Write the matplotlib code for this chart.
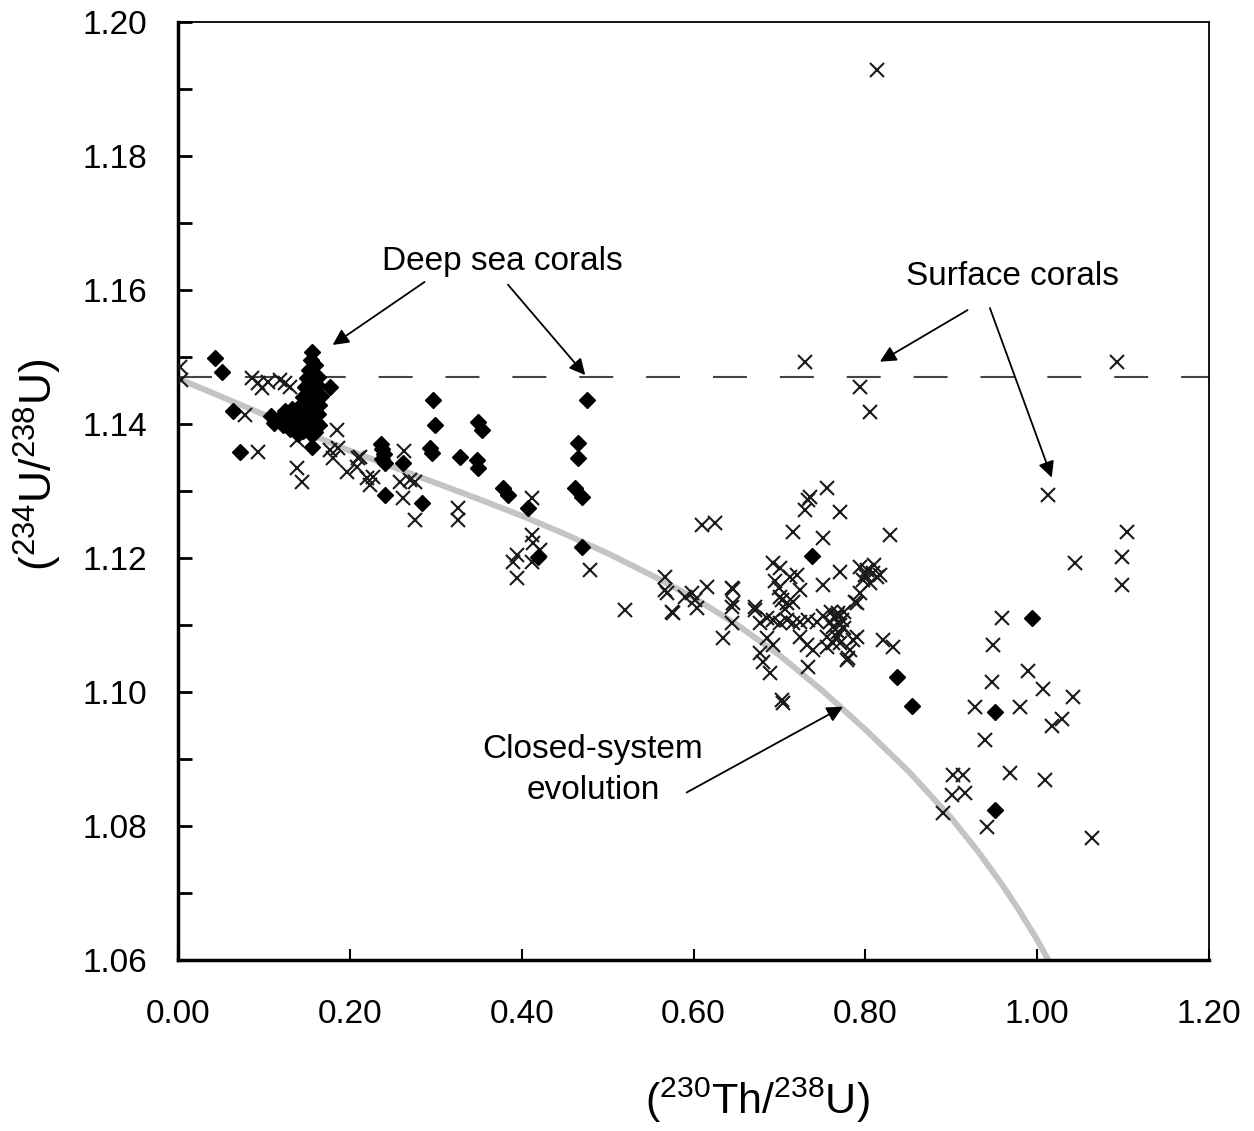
import matplotlib
matplotlib.use("Agg")
import matplotlib.pyplot as plt
from matplotlib.ticker import MultipleLocator, FormatStrFormatter

plt.rcParams['font.family'] = ['Liberation Sans', 'DejaVu Sans']
plt.rcParams['mathtext.fontset'] = 'custom'
plt.rcParams['mathtext.rm'] = 'Liberation Sans'
plt.rcParams['mathtext.it'] = 'Liberation Sans:italic'

# surface corals (crosses)
surf_x = [0.002, 0.003, 0.086, 0.093, 0.098, 0.105, 0.119, 0.125, 0.130, 0.078, 0.093,
          0.138, 0.138, 0.144, 0.185, 0.177, 0.186, 0.180, 0.197, 0.209, 0.208, 0.212,
          0.220, 0.223, 0.227, 0.263, 0.258, 0.276, 0.262, 0.276, 0.270, 0.326, 0.326,
          0.412, 0.412, 0.413, 0.421, 0.395, 0.390, 0.395, 0.412, 0.480, 0.520, 0.610,
          0.625, 0.567, 0.567, 0.569, 0.575, 0.576, 0.590, 0.598, 0.602, 0.616, 0.604,
          0.645, 0.645, 0.645, 0.634, 0.672, 0.677, 0.686, 0.677, 0.681, 0.689, 0.686,
          0.692, 0.692, 0.701, 0.712, 0.720, 0.701, 0.709, 0.716, 0.724, 0.703, 0.706,
          0.692, 0.701, 0.709, 0.716, 0.724, 0.733, 0.744, 0.751, 0.759, 0.767, 0.773,
          0.762, 0.767, 0.762, 0.771, 0.768, 0.775, 0.755, 0.755, 0.724, 0.732, 0.739,
          0.733, 0.703, 0.704, 0.716, 0.730, 0.733, 0.736, 0.755, 0.770, 0.751, 0.770,
          0.751, 0.794, 0.802, 0.809, 0.797, 0.805, 0.814, 0.800, 0.810, 0.788, 0.794,
          0.790, 0.786, 0.782, 0.779, 0.780, 0.790, 0.829, 0.821, 0.832, 0.646, 0.646,
          0.672, 0.768, 0.760, 0.770, 0.765, 0.775, 0.695, 0.700, 0.817,
          0.813, 0.730, 0.794, 0.805, 1.093,
          1.013, 1.105, 1.044, 1.099, 1.099, 0.959, 0.949, 0.947, 0.989, 1.007, 1.042,
          0.928, 0.980, 1.017, 1.029, 0.939, 0.902, 0.914, 0.901, 0.916, 0.968, 1.009,
          0.890, 0.942, 1.064]
surf_y = [1.1485, 1.1465, 1.1469, 1.1461, 1.1454, 1.1462, 1.1466, 1.1461, 1.1455, 1.1414, 1.1358,
          1.1376, 1.1334, 1.1313, 1.1391, 1.1361, 1.1364, 1.1349, 1.1328, 1.1349, 1.1336, 1.1351,
          1.1319, 1.1309, 1.1321, 1.1360, 1.1313, 1.1313, 1.1290, 1.1257, 1.1317, 1.1275, 1.1257,
          1.1290, 1.1234, 1.1222, 1.1212, 1.1205, 1.1194, 1.1170, 1.1194, 1.1182, 1.1122, 1.1249,
          1.1252, 1.1172, 1.1152, 1.1148, 1.1120, 1.1118, 1.1142, 1.1148, 1.1138, 1.1157, 1.1126,
          1.1155, 1.1127, 1.1103, 1.1081, 1.1122, 1.1103, 1.1110, 1.1058, 1.1045, 1.1028, 1.1081,
          1.1070, 1.1193, 1.1185, 1.1172, 1.1175, 1.1142, 1.1133, 1.1134, 1.1152, 1.1138, 1.1124,
          1.1108, 1.1103, 1.1108, 1.1103, 1.1105, 1.1108, 1.1105, 1.1113, 1.1105, 1.1115, 1.1108,
          1.1097, 1.1082, 1.1073, 1.1073, 1.1090, 1.1095, 1.1082, 1.1067, 1.1082, 1.1070, 1.1063,
          1.1038, 1.0988, 1.0984, 1.1239, 1.1272, 1.1287, 1.1291, 1.1305, 1.1269, 1.1230, 1.1179,
          1.1160, 1.1187, 1.1182, 1.1178, 1.1167, 1.1163, 1.1172, 1.1175, 1.1190, 1.1134, 1.1148,
          1.1133, 1.1078, 1.1063, 1.1048, 1.1051, 1.1082, 1.1234, 1.1078, 1.1067, 1.1154, 1.1133,
          1.1127, 1.1118, 1.1120, 1.1100, 1.1110, 1.1120, 1.1165, 1.1155, 1.1175,
          1.1928, 1.1493, 1.1455, 1.1418, 1.1493,
          1.1294, 1.1239, 1.1193, 1.1202, 1.1160, 1.1111, 1.1070, 1.1015, 1.1031, 1.1005, 1.0993,
          1.0978, 1.0978, 1.0949, 1.0960, 1.0928, 1.0876, 1.0876, 1.0847, 1.0850, 1.0879, 1.0869,
          1.0820, 1.0799, 1.0782]

# deep sea corals (diamonds)
deep_x = [0.043, 0.051, 0.064, 0.072,
          0.156, 0.155, 0.160, 0.153, 0.158, 0.163, 0.150, 0.156, 0.162, 0.148, 0.154, 0.160,
          0.166, 0.146, 0.152, 0.158, 0.164, 0.143, 0.150, 0.157, 0.163, 0.140, 0.147, 0.154,
          0.161, 0.137, 0.144, 0.151, 0.158, 0.164, 0.131, 0.138, 0.146, 0.155, 0.160,
          0.108, 0.112, 0.118, 0.122, 0.127, 0.125, 0.133, 0.130, 0.140,
          0.177, 0.156,
          0.297, 0.299, 0.293, 0.296, 0.328, 0.349, 0.354, 0.348, 0.349, 0.378, 0.384, 0.407,
          0.419, 0.476, 0.466, 0.466, 0.462, 0.470, 0.470, 0.236, 0.238, 0.240, 0.237, 0.241,
          0.262, 0.241, 0.284,
          0.738, 0.837, 0.854, 0.994, 0.951, 0.951]
deep_y = [1.1499, 1.1478, 1.1420, 1.1358,
          1.1508, 1.1495, 1.1488, 1.1480, 1.1475, 1.1470, 1.1468, 1.1462, 1.1458, 1.1455, 1.1450, 1.1446,
          1.1442, 1.1440, 1.1436, 1.1432, 1.1428, 1.1428, 1.1423, 1.1419, 1.1415, 1.1418, 1.1412, 1.1407,
          1.1403, 1.1410, 1.1402, 1.1397, 1.1392, 1.1398, 1.1405, 1.1396, 1.1390, 1.1385, 1.1388,
          1.1412, 1.1402, 1.1408, 1.1398, 1.1412, 1.1420, 1.1422, 1.1392, 1.1385,
          1.1455, 1.1366,
          1.1436, 1.1399, 1.1364, 1.1357, 1.1351, 1.1403, 1.1391, 1.1346, 1.1334, 1.1305, 1.1294, 1.1275,
          1.1202, 1.1436, 1.1372, 1.1349, 1.1305, 1.1291, 1.1217, 1.1370, 1.1362, 1.1355, 1.1348, 1.1342,
          1.1342, 1.1294, 1.1282,
          1.1203, 1.1023, 1.0979, 1.1111, 1.0970, 1.0824]

# closed-system evolution curve
curve_x = [0.00, 0.05, 0.10, 0.15, 0.20, 0.25, 0.30, 0.35, 0.40, 0.45, 0.50, 0.55,
           0.60, 0.65, 0.70, 0.75, 0.80, 0.85, 0.90, 0.93, 0.96, 0.98, 1.00, 1.013]
curve_y = [1.1468, 1.1441, 1.1414, 1.1387, 1.1360, 1.1336, 1.1312, 1.1288, 1.1263, 1.1236,
           1.1207, 1.1175, 1.1141, 1.1101, 1.1055, 1.1002, 1.0944, 1.0882, 1.0812, 1.0764,
           1.0711, 1.0672, 1.0630, 1.0600]

seawater = 1.147

fig = plt.figure(figsize=(12.54, 11.31), dpi=100)
ax = fig.add_axes([178 / 1254, 171 / 1131, 1031 / 1254, 938 / 1131])

ax.plot(curve_x, curve_y, color='#c4c4c4', lw=4.3, solid_capstyle='butt',
        solid_joinstyle='round', zorder=1)
ax.plot([0, 1.2], [seawater, seawater], color='#444444', lw=1.5, dashes=(16.3, 15.8), zorder=2)

ax.plot(surf_x, surf_y, ls='none', marker='x', ms=10.5, mew=1.5, color='#1a1a1a', zorder=3)
ax.plot(deep_x, deep_y, ls='none', marker='D', ms=8.5, color='black', zorder=4)

ax.set_xlim(0, 1.2)
ax.set_ylim(1.06, 1.20)
ax.xaxis.set_major_locator(MultipleLocator(0.2))
ax.yaxis.set_major_locator(MultipleLocator(0.02))
ax.yaxis.set_minor_locator(MultipleLocator(0.01))
ax.xaxis.set_major_formatter(FormatStrFormatter('%.2f'))
ax.yaxis.set_major_formatter(FormatStrFormatter('%.2f'))
ax.tick_params(axis='y', which='both', direction='in', length=10, width=2, labelsize=24, pad=22)
ax.tick_params(axis='x', which='both', direction='in', length=8, width=1.5, labelsize=24, pad=28)

for side in ['left', 'bottom']:
    ax.spines[side].set_linewidth(2.5)
for side in ['top', 'right']:
    ax.spines[side].set_linewidth(1.3)

arrow = dict(arrowstyle='-|>', color='black', lw=1.3, mutation_scale=24, shrinkA=0, shrinkB=0)
ax.text(0.377, 1.1642, 'Deep sea corals', fontsize=24, ha='center', va='center')
ax.annotate('', xy=(0.180, 1.1518), xytext=(0.287, 1.1612), arrowprops=arrow)
ax.annotate('', xy=(0.474, 1.1473), xytext=(0.384, 1.1608), arrowprops=arrow)

ax.text(0.971, 1.1620, 'Surface corals', fontsize=24, ha='center', va='center')
ax.annotate('', xy=(0.817, 1.1493), xytext=(0.919, 1.1570), arrowprops=arrow)
ax.annotate('', xy=(1.017, 1.1320), xytext=(0.945, 1.1573), arrowprops=arrow)

ax.text(0.483, 1.0884, 'Closed-system\nevolution', fontsize=24, ha='center', va='center',
        linespacing=1.4)
ax.annotate('', xy=(0.774, 1.0978), xytext=(0.592, 1.0850), arrowprops=arrow)

fig.text(757 / 1254, 1 - 1100 / 1131, r'($^{230}$Th/$^{238}$U)', fontsize=31,
         ha='center', va='center')
fig.text(38 / 1254, 1 - 465 / 1131, r'($^{234}$U/$^{238}$U)', fontsize=32,
         ha='center', va='center', rotation=90)

fig.savefig('out.png', dpi=100)
